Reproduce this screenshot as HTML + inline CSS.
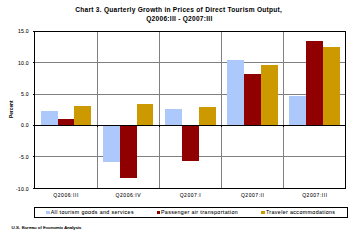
<!DOCTYPE html>
<html><head><meta charset="utf-8">
<style>
html,body{margin:0;padding:0;background:#fff;width:357px;height:240px;overflow:hidden}
svg{display:block}
text{font-family:"Liberation Sans",sans-serif;fill:#000;stroke:#000;stroke-width:0.05px}
.ttl{font-size:6.6px;font-weight:bold;stroke-width:0;letter-spacing:0.26px}
.ax{font-size:5.1px;letter-spacing:0.3px}
.cat{font-size:5.0px;letter-spacing:0.55px}
.leg{font-size:5.3px;letter-spacing:0.38px}
.src{font-size:4.4px;letter-spacing:0.1px;stroke-width:0.15px}
.pct{font-size:4.8px;font-weight:bold;stroke-width:0}
</style></head><body>
<svg width="357" height="240" viewBox="0 0 357 240">
<rect x="0" y="0" width="357" height="240" fill="#fff"/>
<rect x="35" y="62" width="310" height="1" fill="#808080"/>
<rect x="35" y="94" width="310" height="1" fill="#808080"/>
<rect x="35" y="156" width="310" height="1" fill="#808080"/>
<rect x="97" y="32" width="1" height="156" fill="#808080"/>
<rect x="159" y="32" width="1" height="156" fill="#808080"/>
<rect x="221" y="32" width="1" height="156" fill="#808080"/>
<rect x="283" y="32" width="1" height="156" fill="#808080"/>
<rect x="41" y="111" width="17" height="14" fill="#ADC8FA"/>
<rect x="58" y="119" width="16" height="6" fill="#900000"/>
<rect x="74" y="106" width="17" height="19" fill="#CC9900"/>
<rect x="103" y="126" width="17" height="36" fill="#ADC8FA"/>
<rect x="120" y="126" width="17" height="52" fill="#900000"/>
<rect x="137" y="104" width="16" height="21" fill="#CC9900"/>
<rect x="165" y="109" width="17" height="16" fill="#ADC8FA"/>
<rect x="182" y="126" width="17" height="35" fill="#900000"/>
<rect x="199" y="107" width="17" height="18" fill="#CC9900"/>
<rect x="227" y="60" width="17" height="65" fill="#ADC8FA"/>
<rect x="244" y="74" width="17" height="51" fill="#900000"/>
<rect x="261" y="65" width="17" height="60" fill="#CC9900"/>
<rect x="289" y="96" width="17" height="29" fill="#ADC8FA"/>
<rect x="306" y="41" width="17" height="84" fill="#900000"/>
<rect x="323" y="47" width="17" height="78" fill="#CC9900"/>
<rect x="34" y="31" width="312" height="1" fill="#000"/>
<rect x="34" y="188" width="312" height="1" fill="#000"/>
<rect x="34" y="31" width="1" height="158" fill="#000"/>
<rect x="345" y="31" width="1" height="158" fill="#000"/>
<rect x="33" y="125" width="312" height="1" fill="#000"/>
<rect x="33" y="31" width="1" height="1" fill="#000"/>
<rect x="33" y="62" width="1" height="1" fill="#000"/>
<rect x="33" y="94" width="1" height="1" fill="#000"/>
<rect x="33" y="125" width="1" height="1" fill="#000"/>
<rect x="33" y="156" width="1" height="1" fill="#000"/>
<rect x="33" y="188" width="1" height="1" fill="#000"/>
<rect x="97" y="126" width="1" height="1" fill="#000"/>
<rect x="159" y="126" width="1" height="1" fill="#000"/>
<rect x="221" y="126" width="1" height="1" fill="#000"/>
<rect x="283" y="126" width="1" height="1" fill="#000"/>
<text x="178.7" y="11.8" text-anchor="middle" class="ttl">Chart 3. Quarterly Growth in Prices of Direct Tourism Output,</text>
<text x="179.4" y="20.8" text-anchor="middle" class="ttl">Q2006:III - Q2007:III</text>
<text x="29.0" y="33.3" text-anchor="end" class="ax">15.0</text>
<text x="29.0" y="65.3" text-anchor="end" class="ax">10.0</text>
<text x="29.0" y="96.3" text-anchor="end" class="ax">5.0</text>
<text x="29.0" y="127.3" text-anchor="end" class="ax">0.0</text>
<text x="29.0" y="159.3" text-anchor="end" class="ax">-5.0</text>
<text x="29.0" y="191.3" text-anchor="end" class="ax">-10.0</text>
<text transform="translate(13.2,109.2) rotate(-90)" text-anchor="middle" class="pct">Percent</text>
<text x="66.1" y="197.0" text-anchor="middle" class="cat">Q2006:III</text>
<text x="128.3" y="197.0" text-anchor="middle" class="cat">Q2006:IV</text>
<text x="190.5" y="197.0" text-anchor="middle" class="cat">Q2007:I</text>
<text x="252.7" y="197.0" text-anchor="middle" class="cat">Q2007:II</text>
<text x="314.9" y="197.0" text-anchor="middle" class="cat">Q2007:III</text>
<rect x="34" y="207" width="314" height="1" fill="#000"/>
<rect x="34" y="217" width="314" height="1" fill="#000"/>
<rect x="34" y="207" width="1" height="11" fill="#000"/>
<rect x="347" y="207" width="1" height="11" fill="#000"/>
<rect x="46" y="211" width="4" height="3" fill="#ADC8FA"/>
<text x="50.7" y="213.8" class="leg">All tourism goods and services</text>
<rect x="157" y="211" width="3" height="3" fill="#900000"/>
<text x="160.9" y="213.8" class="leg">Passenger air transportation</text>
<rect x="261" y="211" width="4" height="3" fill="#CC9900"/>
<text x="265.9" y="213.8" class="leg">Traveler accommodations</text>
<text x="11.5" y="229.3" class="src">U.S. Bureau of Economic Analysis</text>
</svg>
</body></html>
